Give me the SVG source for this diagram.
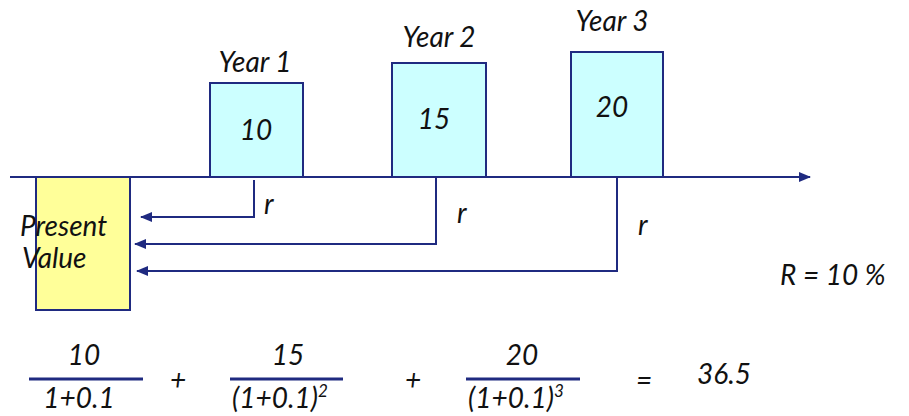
<svg xmlns="http://www.w3.org/2000/svg" width="909" height="416" viewBox="0 0 909 416">
<defs>
<marker id="ah" markerWidth="12" markerHeight="10" refX="11" refY="5" orient="auto" markerUnits="userSpaceOnUse">
<path d="M0,0 L12,5 L0,10 Z" fill="#1F2A80"/>
</marker>
<style>
text{font-family:Lato,"Open Sans","Liberation Sans",sans-serif;font-style:italic;fill:#111;}
.lbl{font-size:28px;}
.num{font-size:28px;text-anchor:middle;}
.box{fill:#CCFFFF;stroke:#1F2A80;stroke-width:2;}
.pv{fill:#FFFF99;stroke:#1F2A80;stroke-width:2;}
.ln{fill:none;stroke:#1F2A80;stroke-width:2;}
.frac{stroke:#1F2A80;stroke-width:3;}
</style>
</defs>
<g id="pv">
<rect class="pv" x="36" y="177" width="94" height="133"/>
<text class="lbl" x="20" y="236">Present</text>
<text class="lbl" x="22" y="268">Value</text>
</g>
<g id="year1">
<rect class="box" x="210" y="83" width="93" height="94"/>
<text class="num" x="255" y="72">Year 1</text>
<text class="num" x="256" y="140">10</text>
</g>
<g id="year2">
<rect class="box" x="392" y="63" width="94" height="114"/>
<text class="num" x="439" y="47">Year 2</text>
<text class="num" x="434" y="129">15</text>
</g>
<g id="year3">
<rect class="box" x="571" y="52" width="92" height="125"/>
<text class="num" x="612" y="31">Year 3</text>
<text class="num" x="612" y="117">20</text>
</g>
<g id="connectors">
<line class="ln" x1="10" y1="177" x2="810" y2="177" marker-end="url(#ah)"/>
<polyline class="ln" points="254,180 254,217 141,217" marker-end="url(#ah)"/>
<polyline class="ln" points="436,177 436,244 135,244" marker-end="url(#ah)"/>
<polyline class="ln" points="617,177 617,271 137,271" marker-end="url(#ah)"/>
</g>
<g id="labels">
<text class="lbl" x="264" y="214">r</text>
<text class="lbl" x="457" y="223">r</text>
<text class="lbl" x="638" y="235">r</text>
<text class="lbl" x="780" y="285">R = 10 %</text>
</g>
<g id="formula">
<line class="frac" x1="29" y1="379" x2="143" y2="379"/>
<text class="num" x="84" y="365">10</text>
<text class="num" x="79" y="408">1+0.1</text>
<text class="num" x="178" y="390">+</text>
<line class="frac" x1="230" y1="379" x2="343" y2="379"/>
<text class="num" x="288" y="365">15</text>
<text class="num" x="280" y="408">(1+0.1)<tspan font-size="17" dy="-11">2</tspan></text>
<text class="num" x="413" y="390">+</text>
<line class="frac" x1="466" y1="379" x2="580" y2="379"/>
<text class="num" x="522" y="365">20</text>
<text class="num" x="516" y="408">(1+0.1)<tspan font-size="17" dy="-11">3</tspan></text>
<text class="num" x="644" y="390">=</text>
<text class="lbl" x="697" y="384">36.5</text>
</g>
</svg>
